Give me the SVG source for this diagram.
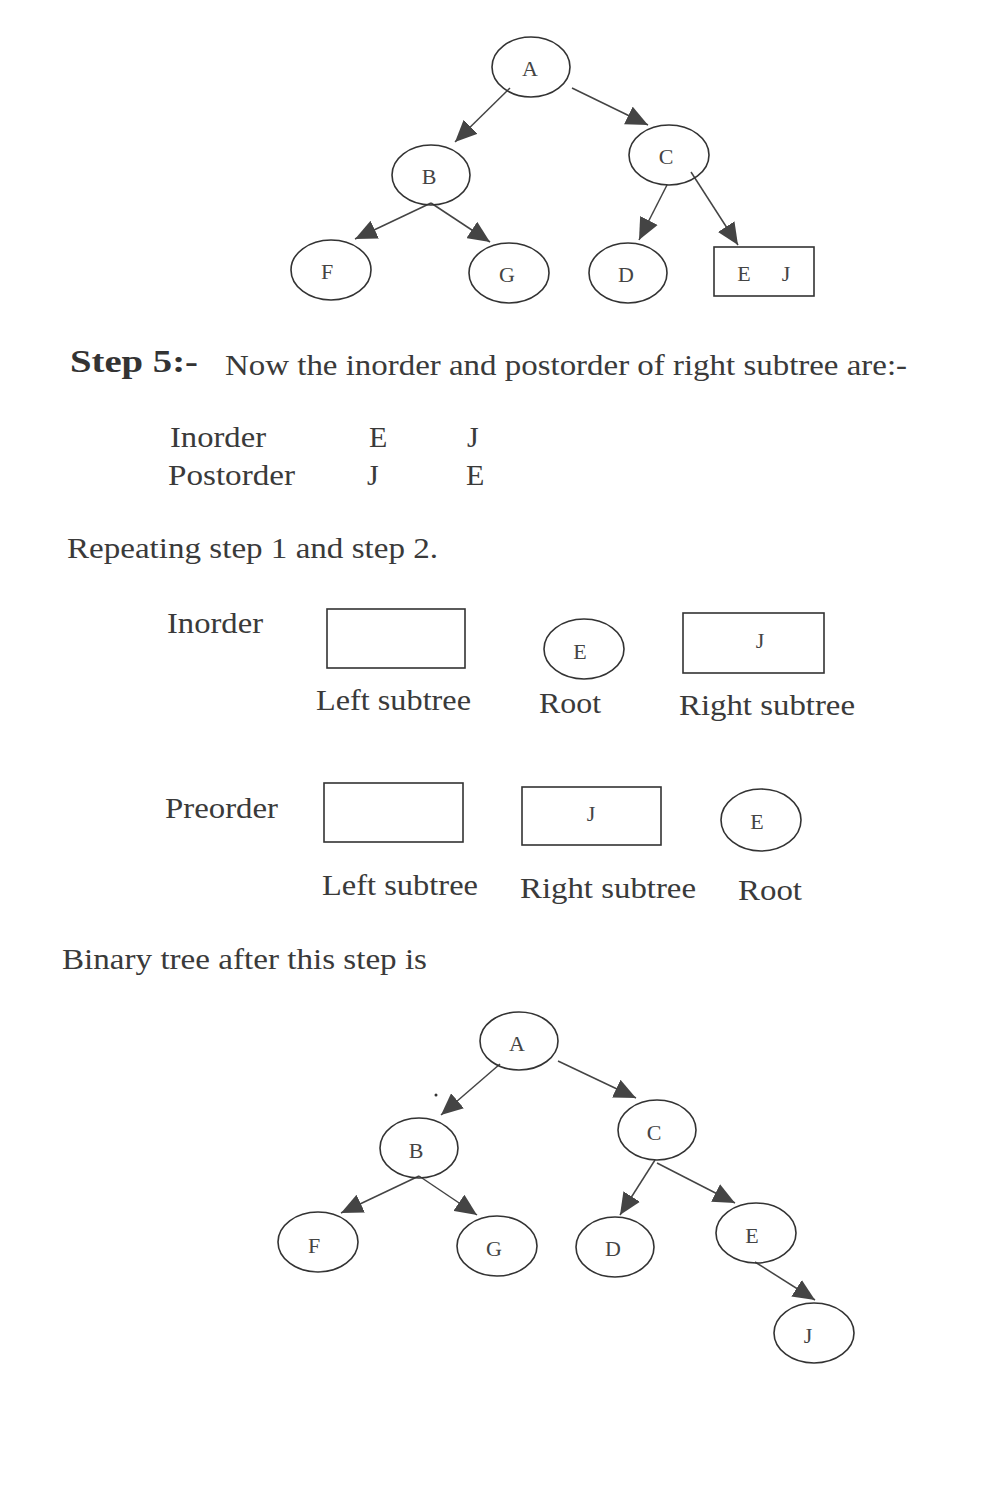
<svg xmlns="http://www.w3.org/2000/svg" width="998" height="1506" viewBox="0 0 998 1506">
<style>
.n{fill:none;stroke:#333;stroke-width:1.6}
.lbl{font-family:"Liberation Serif",serif;font-size:22px;fill:#444;text-anchor:middle}
.t{font-family:"Liberation Serif",serif;font-size:30px;fill:#3a3a3a}
.e{stroke:#444;stroke-width:1.5;fill:none;marker-end:url(#ah)}
</style>
<defs>
<marker id="ah" markerUnits="userSpaceOnUse" markerWidth="24" markerHeight="20" refX="20" refY="9" orient="auto" viewBox="0 0 22 18">
<path d="M0,0 L20,9 L0,18 Z" fill="#444"/>
</marker>
</defs>
<rect width="998" height="1506" fill="#fff"/>

<!-- top tree -->
<g id="connectors-top">
<line class="e" x1="510" y1="88" x2="455" y2="142"/>
<line class="e" x1="572" y1="88" x2="648" y2="125"/>
<line class="e" x1="431" y1="203" x2="355" y2="239"/>
<line class="e" x1="431" y1="203" x2="490" y2="242"/>
<line class="e" x1="667" y1="185" x2="639" y2="240"/>
<line class="e" x1="691" y1="172" x2="738" y2="245"/>
</g>
<g id="top-A"><ellipse class="n" cx="531" cy="67" rx="39" ry="30"/><text class="lbl" x="530" y="76">A</text></g>
<g id="top-B"><ellipse class="n" cx="431" cy="175" rx="39" ry="30"/><text class="lbl" x="429" y="184">B</text></g>
<g id="top-C"><ellipse class="n" cx="669" cy="155" rx="40" ry="30"/><text class="lbl" x="666" y="164">C</text></g>
<g id="top-F"><ellipse class="n" cx="331" cy="270" rx="40" ry="30"/><text class="lbl" x="327" y="279">F</text></g>
<g id="top-G"><ellipse class="n" cx="509" cy="273" rx="40" ry="30"/><text class="lbl" x="507" y="282">G</text></g>
<g id="top-D"><ellipse class="n" cx="628" cy="273" rx="39" ry="30"/><text class="lbl" x="626" y="282">D</text></g>
<g id="top-EJ"><rect class="n" x="714" y="247" width="100" height="49"/><text class="lbl" x="744" y="281">E</text><text class="lbl" x="786" y="281">J</text></g>

<!-- text block -->
<text x="70" y="372" font-family="Liberation Serif,serif" font-weight="bold" font-size="31" fill="#333" textLength="128" lengthAdjust="spacingAndGlyphs">Step 5:-</text>
<text class="t" x="225" y="375" textLength="682" lengthAdjust="spacingAndGlyphs">Now the inorder and postorder of right subtree are:-</text>
<text class="t" x="170" y="447" textLength="96" lengthAdjust="spacingAndGlyphs">Inorder</text>
<text class="t" x="369" y="447">E</text>
<text class="t" x="467" y="447">J</text>
<text class="t" x="168" y="485" textLength="127" lengthAdjust="spacingAndGlyphs">Postorder</text>
<text class="t" x="367" y="485">J</text>
<text class="t" x="466" y="485">E</text>
<text class="t" x="67" y="558" textLength="371" lengthAdjust="spacingAndGlyphs">Repeating step 1 and step 2.</text>

<!-- inorder row -->
<text class="t" x="167" y="633" textLength="96" lengthAdjust="spacingAndGlyphs">Inorder</text>
<g id="in-left"><rect class="n" x="327" y="609" width="138" height="59"/></g>
<g id="in-root"><ellipse class="n" cx="584" cy="649" rx="40" ry="30"/><text class="lbl" x="580" y="659">E</text></g>
<g id="in-right"><rect class="n" x="683" y="613" width="141" height="60"/><text class="lbl" x="760" y="648" font-size="20">J</text></g>
<text class="t" x="316" y="710" textLength="155" lengthAdjust="spacingAndGlyphs">Left subtree</text>
<text class="t" x="539" y="713" textLength="62" lengthAdjust="spacingAndGlyphs">Root</text>
<text class="t" x="679" y="715" textLength="176" lengthAdjust="spacingAndGlyphs">Right subtree</text>

<!-- preorder row -->
<text class="t" x="165" y="818" textLength="113" lengthAdjust="spacingAndGlyphs">Preorder</text>
<g id="pre-left"><rect class="n" x="324" y="783" width="139" height="59"/></g>
<g id="pre-right"><rect class="n" x="522" y="787" width="139" height="58"/><text class="lbl" x="591" y="821" font-size="20">J</text></g>
<g id="pre-root"><ellipse class="n" cx="761" cy="820" rx="40" ry="31"/><text class="lbl" x="757" y="829">E</text></g>
<text class="t" x="322" y="895" textLength="156" lengthAdjust="spacingAndGlyphs">Left subtree</text>
<text class="t" x="520" y="898" textLength="176" lengthAdjust="spacingAndGlyphs">Right subtree</text>
<text class="t" x="738" y="900" textLength="64" lengthAdjust="spacingAndGlyphs">Root</text>

<text class="t" x="62" y="969" textLength="365" lengthAdjust="spacingAndGlyphs">Binary tree after this step is</text>

<!-- bottom tree -->
<g id="connectors-bottom">
<line class="e" x1="500" y1="1064" x2="441" y2="1115"/>
<line class="e" x1="558" y1="1061" x2="636" y2="1098"/>
<line class="e" x1="419" y1="1176" x2="341" y2="1213"/>
<line class="e" x1="419" y1="1176" x2="477" y2="1215"/>
<line class="e" x1="655" y1="1160" x2="620" y2="1215"/>
<line class="e" x1="657" y1="1163" x2="735" y2="1203"/>
<line class="e" x1="755" y1="1262" x2="815" y2="1300"/>
</g>
<circle cx="436" cy="1095" r="1.5" fill="#333"/>
<g id="bot-A"><ellipse class="n" cx="519" cy="1041" rx="39" ry="29"/><text class="lbl" x="517" y="1051">A</text></g>
<g id="bot-B"><ellipse class="n" cx="419" cy="1148" rx="39" ry="30"/><text class="lbl" x="416" y="1158">B</text></g>
<g id="bot-C"><ellipse class="n" cx="657" cy="1130" rx="39" ry="30"/><text class="lbl" x="654" y="1140">C</text></g>
<g id="bot-F"><ellipse class="n" cx="318" cy="1242" rx="40" ry="30"/><text class="lbl" x="314" y="1253">F</text></g>
<g id="bot-G"><ellipse class="n" cx="497" cy="1246" rx="40" ry="30"/><text class="lbl" x="494" y="1256">G</text></g>
<g id="bot-D"><ellipse class="n" cx="615" cy="1247" rx="39" ry="30"/><text class="lbl" x="613" y="1256">D</text></g>
<g id="bot-E"><ellipse class="n" cx="756" cy="1233" rx="40" ry="30"/><text class="lbl" x="752" y="1243">E</text></g>
<g id="bot-J"><ellipse class="n" cx="814" cy="1333" rx="40" ry="30"/><text class="lbl" x="808" y="1343">J</text></g>
</svg>
